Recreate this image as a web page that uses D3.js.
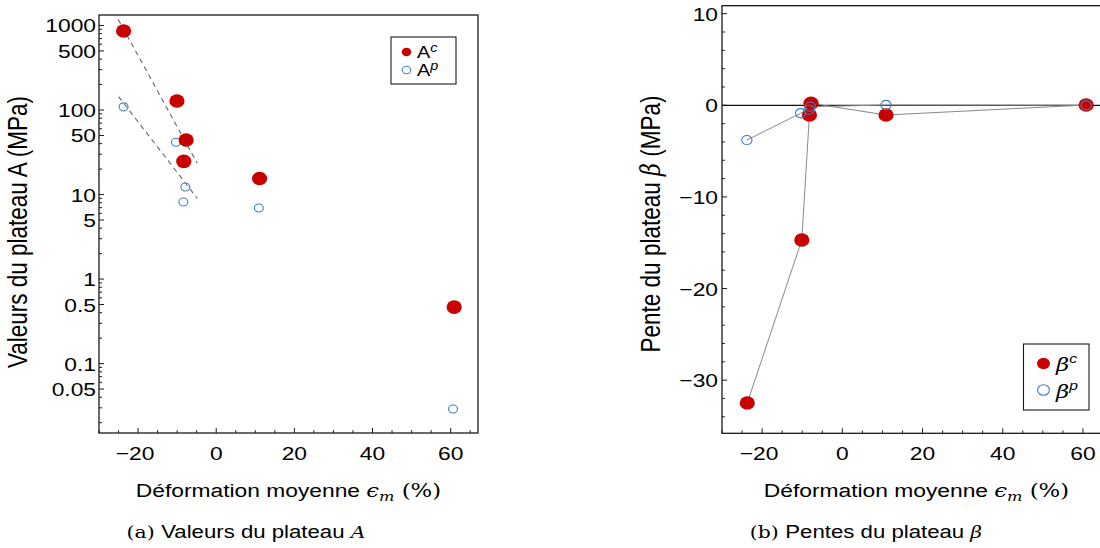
<!DOCTYPE html>
<html><head><meta charset="utf-8">
<script src="https://cdn.jsdelivr.net/npm/d3@7"></script>
<style>body{margin:0;background:#fff}svg{display:block}</style>
</head><body>
<svg id="c" width="1100" height="548"></svg>
<script>
// ---- data ----
const xAc = [-23.7, -10.05, -7.7, -8.3, 11.1, 60.9];
const yAc = [861, 128, 44.2, 24.7, 15.5, 0.466];
const xAp = [-23.7, -10.3, -7.9, -8.4, 10.9, 60.6];
const yAp = [109, 41.5, 12.3, 8.15, 6.92, 0.029];
const fitCx = [-25.1, -4.86], fitCy = [1184, 23.4];
const fitPx = [-25.0, -4.86], fitPy = [144, 9.02];

const xBc = [-23.7, -10.1, -8.2, -7.8, 10.9, 60.8];
const yBc = [-32.5, -14.7, -1.06, 0.22, -1.06, 0.03];
const xBp = [-23.8, -10.4, -8.3, -8.0, 10.9, 60.8];
const yBp = [-3.8, -0.87, -0.5, -0.15, 0.03, 0.0];

const xTicks = [-20, 0, 20, 40, 60];
const logTickLabels = ["1000","500","100","50","10","5","1","0.5","0.1","0.05"];
const betaTicks = [10, 0, -10, -20, -30];

const RED = "#c80000", BLUE = "#3c7fc6", AX = "#1a1a1a";
const SX = 1.2;
const SANS = "'Liberation Sans', Arial, sans-serif";
const SERIF = "'DejaVu Serif', 'Liberation Serif', serif";

const svg = d3.select("#c");

function stext(g, x, y, anchor, size, fam) {
  return g.append("text")
    .attr("transform", `translate(${x},${y}) scale(${SX},1)`)
    .attr("text-anchor", anchor)
    .attr("font-family", fam || SANS)
    .attr("font-size", size)
    .attr("fill", "#000");
}
function mark(g, x, y, r, filled) {
  g.append("ellipse").attr("cx", x).attr("cy", y)
    .attr("rx", r * 1.12).attr("ry", r)
    .attr("fill", filled ? RED : "none")
    .attr("stroke", filled ? RED : BLUE)
    .attr("stroke-width", filled ? 0 : 1.1);
}
function xlabel(g, cx, y) {
  const t = stext(g, cx, y, "middle", 19);
  t.append("tspan").text("Déformation moyenne ");
  t.append("tspan").attr("font-family", SERIF).attr("font-style", "italic").text("ϵ");
  t.append("tspan").attr("font-family", SERIF).attr("font-style", "italic").attr("font-size", 13.5).attr("dy", 4).text("m");
  t.append("tspan").attr("font-family", SERIF).attr("dy", -4).text(" (%)");
}

// ================= Panel (a) =================
{
  const L = 99, R = 478, T = 15, B = 433;
  const x = d3.scaleLinear().domain([-30, 67]).range([L, R]);
  const y = d3.scaleLog().domain([0.0151, 1330]).range([B, T]);
  const g = svg.append("g");

  g.append("rect").attr("x", L).attr("y", T).attr("width", R - L).attr("height", B - T)
    .attr("fill", "none").attr("stroke", AX).attr("stroke-width", 1.3);

  for (let v = -30; v <= 65; v += 5) {
    const major = v % 20 === 0;
    g.append("line").attr("x1", x(v)).attr("x2", x(v)).attr("y1", B).attr("y2", B - (major ? 5 : 2.8))
      .attr("stroke", AX).attr("stroke-width", 1);
  }
  xTicks.forEach(v => {
    stext(g, x(v) + (v < 0 ? -3 : 0), 460, "middle", 19).text(v < 0 ? "\u2212" + Math.abs(v) : v);
  });

  const labelVals = logTickLabels.map(Number);
  for (let e = -2; e <= 3; e++) {
    for (let m = 1; m <= 9; m++) {
      const v = m * Math.pow(10, e);
      if (v < 0.0151 || v > 1330) continue;
      const major = labelVals.some(lv => Math.abs(lv - v) / v < 1e-6);
      g.append("line").attr("x1", L).attr("x2", L + (major ? 5 : 3)).attr("y1", y(v)).attr("y2", y(v))
        .attr("stroke", AX).attr("stroke-width", 1);
    }
  }
  logTickLabels.forEach(s => {
    stext(g, L - 3, y(+s) + 7, "end", 19).text(s);
  });

  const lf = d3.line().x(d => x(d[0])).y(d => y(d[1]));
  [[fitCx, fitCy], [fitPx, fitPy]].forEach(([xs, ys]) => {
    g.append("path").attr("d", lf(xs.map((v, i) => [v, ys[i]])))
      .attr("fill", "none").attr("stroke", "#666").attr("stroke-width", 1.1).attr("stroke-dasharray", "5,4");
  });

  xAp.forEach((v, i) => mark(g, x(v), y(yAp[i]), 4.0, false));
  xAc.forEach((v, i) => mark(g, x(v), y(yAc[i]), 6.8, true));

  // legend
  g.append("rect").attr("x", 391).attr("y", 37).attr("width", 65).attr("height", 47)
    .attr("fill", "#fff").attr("stroke", AX).attr("stroke-width", 1.1);
  mark(g, 406.5, 52, 4.3, true);
  mark(g, 406.5, 70, 3.8, false);
  [["c", 58], ["p", 76]].forEach(([s, yy]) => {
    const t = stext(g, 417, yy, "start", 16.5);
    t.append("tspan").text("A");
    t.append("tspan").attr("font-style", "italic").attr("font-size", 12).attr("dy", -6).text(s);
  });

  xlabel(g, (L + R) / 2, 497);
  g.append("text")
    .attr("transform", `translate(27,232) scale(${SX},1) rotate(-90)`)
    .attr("text-anchor", "middle").attr("font-family", SANS).attr("font-size", 22.5)
    .text("Valeurs du plateau A (MPa)");

  const cap = stext(g, 246, 538, "middle", 18.5);
  cap.append("tspan").attr("font-family", SERIF).attr("font-size", 17).text("(a) ");
  cap.append("tspan").text("Valeurs du plateau ");
  cap.append("tspan").attr("font-family", SERIF).attr("font-style", "italic").attr("font-size", 17).text("A");
}

// ================= Panel (b) =================
{
  const L = 722, R = 1111, T = 5.7, B = 433.3;
  const x = d3.scaleLinear().domain([-30, 67]).range([L, R]);
  const y = d3.scaleLinear().domain([-35.8, 10.87]).range([B, T]);
  const g = svg.append("g");

  g.append("rect").attr("x", L).attr("y", T).attr("width", R - L).attr("height", B - T)
    .attr("fill", "none").attr("stroke", AX).attr("stroke-width", 1.3);

  for (let v = -30; v <= 65; v += 5) {
    const major = v % 20 === 0;
    g.append("line").attr("x1", x(v)).attr("x2", x(v)).attr("y1", B).attr("y2", B - (major ? 5 : 2.8))
      .attr("stroke", AX).attr("stroke-width", 1);
  }
  xTicks.forEach(v => {
    stext(g, x(v) + (v < 0 ? -3 : 0), 460, "middle", 19).text(v < 0 ? "\u2212" + Math.abs(v) : v);
  });

  for (let v = -34; v <= 10; v += 2) {
    const major = v % 10 === 0;
    g.append("line").attr("x1", L).attr("x2", L + (major ? 5 : 2.8)).attr("y1", y(v)).attr("y2", y(v))
      .attr("stroke", AX).attr("stroke-width", 1);
  }
  betaTicks.forEach(v => {
    stext(g, L - 4, y(v) + 7, "end", 19).text(v < 0 ? "\u2212" + Math.abs(v) : v);
  });

  g.append("line").attr("x1", L).attr("x2", R).attr("y1", y(0)).attr("y2", y(0))
    .attr("stroke", "#111").attr("stroke-width", 1.2);

  const ln = d3.line().x(d => x(d[0])).y(d => y(d[1]));
  const sortPts = (xs, ys) => xs.map((v, i) => [v, ys[i]]).sort((a, b) => a[0] - b[0]);
  g.append("path").attr("d", ln(sortPts(xBp, yBp))).attr("fill", "none").attr("stroke", "#888").attr("stroke-width", 1);
  g.append("path").attr("d", ln(sortPts(xBc, yBc))).attr("fill", "none").attr("stroke", "#888").attr("stroke-width", 1);

  xBc.forEach((v, i) => mark(g, x(v), y(yBc[i]), 6.8, true));
  xBp.forEach((v, i) => mark(g, x(v), y(yBp[i]), 4.6, false));

  g.append("rect").attr("x", 1023.5).attr("y", 344).attr("width", 65.5).attr("height", 66)
    .attr("fill", "#fff").attr("stroke", AX).attr("stroke-width", 1.1);
  mark(g, 1043.5, 363.5, 5.8, true);
  mark(g, 1043.5, 390, 5.3, false);
  [["c", 371], ["p", 398]].forEach(([s, yy]) => {
    const t = stext(g, 1056, yy, "start", 19);
    t.append("tspan").attr("font-family", SERIF).attr("font-style", "italic").text("β");
    t.append("tspan").attr("font-style", "italic").attr("font-size", 13).attr("dy", -8).text(s);
  });

  xlabel(g, (L + R) / 2, 497);
  const yl = g.append("text")
    .attr("transform", `translate(660,224) scale(${SX},1) rotate(-90)`)
    .attr("text-anchor", "middle").attr("font-family", SANS).attr("font-size", 22.5);
  yl.append("tspan").text("Pente du plateau ");
  yl.append("tspan").attr("font-family", SERIF).attr("font-style", "italic").text("β");
  yl.append("tspan").text(" (MPa)");

  const cap = stext(g, 866, 538, "middle", 18.5);
  cap.append("tspan").attr("font-family", SERIF).attr("font-size", 17).text("(b) ");
  cap.append("tspan").text("Pentes du plateau ");
  cap.append("tspan").attr("font-family", SERIF).attr("font-style", "italic").attr("font-size", 17).text("β");
}
</script>
</body></html>
